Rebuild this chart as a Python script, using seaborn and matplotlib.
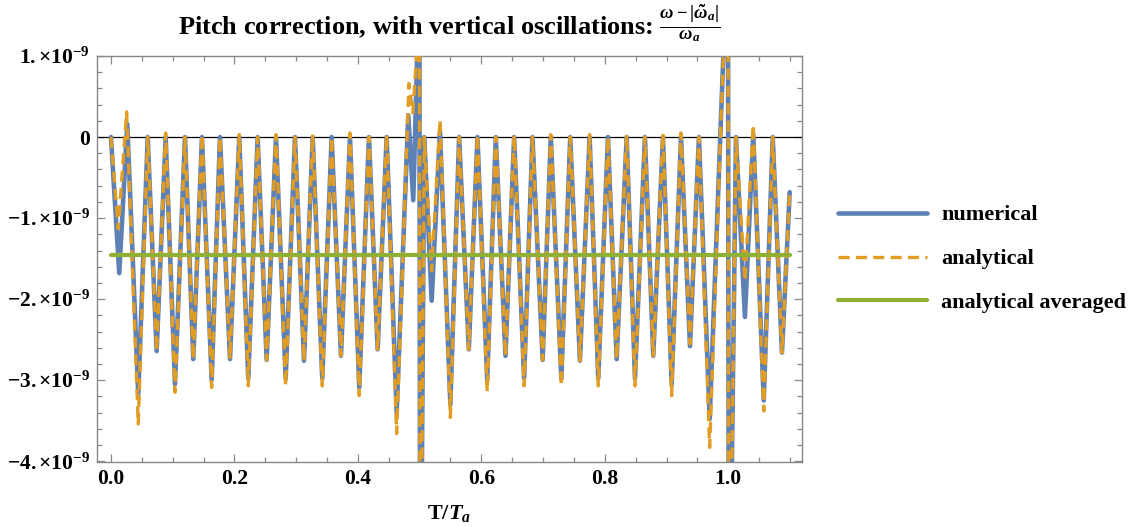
"""
Pitch correction with vertical oscillations - recreated plot
"""
#%% import libraries
import matplotlib
matplotlib.use("Agg")
import numpy as np
import pandas as pd
import matplotlib.pyplot as plt
from matplotlib.ticker import FixedLocator, MultipleLocator, FixedFormatter
import seaborn as sns

#%% data (values in units of 1e-9: local extrema of each curve)
t_num = [0.0, 0.0134, 0.0264, 0.0442, 0.0595, 0.0740, 0.0886, 0.1037, 0.1199, 0.1333,
         0.1474, 0.1631, 0.1766, 0.1928, 0.2078, 0.2224, 0.2376, 0.2522, 0.2673, 0.2830,
         0.2981, 0.3127, 0.3267, 0.3423, 0.3575, 0.3726, 0.3872, 0.4022, 0.4179, 0.4320,
         0.4466, 0.4628, 0.4816, 0.4897, 0.4960, 0.4990, 0.5010, 0.5075, 0.5195, 0.5330,
         0.5498, 0.5640, 0.5797, 0.5937, 0.6095, 0.6234, 0.6391, 0.6531, 0.6693, 0.6828,
         0.6993, 0.7125, 0.7296, 0.7440, 0.7597, 0.7754, 0.7894, 0.8051, 0.8192, 0.8354,
         0.8489, 0.8650, 0.8785, 0.8942, 0.9083, 0.9234, 0.9380, 0.9525, 0.9699, 0.9920,
         0.9990, 1.0010, 1.0125, 1.0270, 1.0405, 1.0575, 1.0720, 1.0870, 1.0995]
y_num = [0.0, -1.68, 0.16, -3.17, 0.0, -2.64, 0.0, -3.05, 0.0, -2.74,
         0.0, -3.00, 0.0, -2.74, 0.0, -2.98, 0.0, -2.75, 0.0, -2.98,
         0.0, -2.76, 0.0, -2.98, 0.0, -2.70, 0.0, -3.09, 0.0, -2.62,
         0.0, -3.40, 0.27, -0.78, 1.0, 6.0, -7.0, 0.0, -2.02, 0.07,
         -3.30, 0.0, -2.62, 0.0, -3.00, 0.0, -2.70, 0.0, -2.98, 0.0,
         -2.75, 0.0, -2.98, 0.0, -2.76, 0.0, -2.98, 0.0, -2.74, 0.0,
         -2.98, 0.0, -2.70, 0.0, -3.05, 0.0, -2.58, 0.0, -3.48, 1.0,
         6.0, -7.0, 0.0, -2.22, 0.03, -3.25, 0.0, -2.66, -0.68]

t_ana = [0.0, 0.0118, 0.0254, 0.0442, 0.0595, 0.0740, 0.0886, 0.1037, 0.1199, 0.1333,
         0.1474, 0.1631, 0.1766, 0.1928, 0.2078, 0.2224, 0.2376, 0.2522, 0.2673, 0.2830,
         0.2981, 0.3127, 0.3267, 0.3423, 0.3575, 0.3726, 0.3872, 0.4022, 0.4179, 0.4320,
         0.4466, 0.4628, 0.4827, 0.4890, 0.4950, 0.4990, 0.5010, 0.5075, 0.5195, 0.5330,
         0.5498, 0.5640, 0.5797, 0.5937, 0.6095, 0.6234, 0.6391, 0.6531, 0.6693, 0.6828,
         0.6993, 0.7125, 0.7296, 0.7440, 0.7597, 0.7754, 0.7894, 0.8051, 0.8192, 0.8354,
         0.8489, 0.8650, 0.8785, 0.8942, 0.9083, 0.9234, 0.9380, 0.9525, 0.9699, 0.9920,
         0.9990, 1.0010, 1.0125, 1.0270, 1.0405, 1.0575, 1.0720, 1.0870, 1.0995]
y_ana = [0.0, -1.13, 0.31, -3.54, 0.0, -2.64, 0.05, -3.15, 0.0, -2.74,
         0.03, -3.09, 0.0, -2.74, 0.03, -3.07, 0.0, -2.75, 0.03, -3.07,
         0.0, -2.76, 0.03, -3.07, 0.0, -2.70, 0.05, -3.19, 0.0, -2.62,
         0.03, -3.66, 0.66, 0.30, 1.0, 6.0, -7.0, 0.0, -1.65, 0.21,
         -3.46, 0.0, -2.62, 0.03, -3.14, 0.0, -2.70, 0.03, -3.07, 0.0,
         -2.75, 0.03, -3.07, 0.0, -2.76, 0.03, -3.07, 0.0, -2.74, 0.03,
         -3.07, 0.0, -2.70, 0.05, -3.19, 0.05, -2.55, 0.0, -3.83, 1.0,
         6.0, -7.0, 0.0, -1.78, 0.15, -3.38, 0.0, -2.66, -0.68]

t_avg = [0.0, 1.1]
y_avg = [-1.45, -1.45]

x_ticks = [0.0, 0.2, 0.4, 0.6, 0.8, 1.0]
x_labels = ["0.0", "0.2", "0.4", "0.6", "0.8", "1.0"]
y_ticks = [1, 0, -1, -2, -3, -4]
y_labels = [r"$\mathrm{1.{\times}10^{-9}}$", "0", r"$\mathrm{-1.{\times}10^{-9}}$",
            r"$\mathrm{-2.{\times}10^{-9}}$", r"$\mathrm{-3.{\times}10^{-9}}$",
            r"$\mathrm{-4.{\times}10^{-9}}$"]

#%% style
sns.set_theme(style="ticks")
plt.rcParams["font.family"] = ["Liberation Serif", "DejaVu Serif"]
plt.rcParams["font.weight"] = "bold"
plt.rcParams["text.color"] = "black"
plt.rcParams["axes.labelcolor"] = "black"
plt.rcParams["mathtext.fontset"] = "custom"
plt.rcParams["mathtext.rm"] = "Liberation Serif:bold"
plt.rcParams["mathtext.bf"] = "Liberation Serif:bold"
plt.rcParams["mathtext.it"] = "Liberation Serif:italic:bold"
plt.rcParams["lines.scale_dashes"] = False

blue = "#5E81B5"
orange = "#E19C24"
green = "#8FB032"

df_num = pd.DataFrame({"t": t_num, "y": y_num})
df_ana = pd.DataFrame({"t": t_ana, "y": y_ana})
df_avg = pd.DataFrame({"t": t_avg, "y": y_avg})

#%% plot
fig = plt.figure(figsize=(11.34, 5.27), dpi=100)
ax = fig.add_axes([0.0855, 0.1233, 0.6217, 0.7704])

ax.axhline(0, color="black", lw=0.9, zorder=1)
sns.lineplot(data=df_num, x="t", y="y", sort=False, estimator=None, color=blue,
             lw=3.3, label="numerical", ax=ax, zorder=2)
sns.lineplot(data=df_ana, x="t", y="y", sort=False, estimator=None, color=orange,
             lw=2.4, linestyle=(0, (8, 4.5)), label="analytical", ax=ax, zorder=3)
sns.lineplot(data=df_avg, x="t", y="y", sort=False, estimator=None, color=green,
             lw=3.0, label="analytical averaged", ax=ax, zorder=4)

ax.set_xlim(-0.0227, 1.1194)
ax.set_ylim(-4.01, 1.0)

ax.xaxis.set_major_locator(FixedLocator(x_ticks))
ax.xaxis.set_major_formatter(FixedFormatter(x_labels))
ax.xaxis.set_minor_locator(MultipleLocator(0.05))
ax.yaxis.set_major_locator(FixedLocator(y_ticks))
ax.yaxis.set_major_formatter(FixedFormatter(y_labels))
ax.yaxis.set_minor_locator(MultipleLocator(0.2))

ax.tick_params(which="both", direction="in", top=True, right=True,
               color="#888888", labelcolor="black", labelsize=15.5, width=0.9)
ax.tick_params(which="major", length=6, pad=5)
ax.tick_params(which="minor", length=3.5)
for s in ax.spines.values():
    s.set_color("#888888")
    s.set_linewidth(1.0)

ax.set_xlabel(r"$\mathrm{T}/T_a$", fontsize=16, labelpad=10, color="black")
ax.set_ylabel("")
ax.set_title(r"Pitch correction, with vertical oscillations: "
             r"$\frac{\omega-|\tilde{\omega}_a|}{\omega_a}$",
             fontsize=19, fontweight="bold", pad=16, color="black")

ax.legend(loc="center left", bbox_to_anchor=(838 / 1134, 1 - 259 / 527),
          bbox_transform=fig.transFigure, frameon=False, handlelength=4.0,
          handletextpad=0.65, labelspacing=1.05, borderpad=0, borderaxespad=0,
          prop={"family": "Liberation Serif", "weight": "bold", "size": 16})

fig.savefig("out.png", dpi=100)
